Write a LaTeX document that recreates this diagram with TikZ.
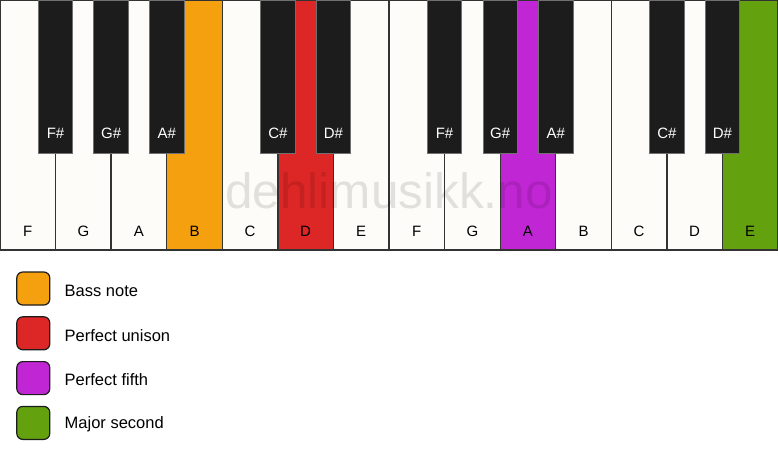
\documentclass[tikz,border=0pt]{standalone}
\usepackage{fontspec}
\setmainfont{Liberation Sans}
\definecolor{keyline}{HTML}{333333}
\definecolor{ivorykey}{HTML}{FDFCF9}
\definecolor{blackfill}{HTML}{1C1C1C}
\definecolor{bassc}{HTML}{F4A00F}
\definecolor{unisonc}{HTML}{DD2626}
\definecolor{fifthc}{HTML}{C126D4}
\definecolor{secondc}{HTML}{63A10E}
\tikzset{
  whitekey/.style={draw=keyline, line width=1.3pt, minimum width=55.5714pt, minimum height=250pt, inner sep=0pt, outer sep=0pt, anchor=north west},
  blackkey/.style={draw=keyline!70, line width=0.8pt, fill=blackfill, minimum width=34.5pt, minimum height=153pt, inner sep=0pt, outer sep=0pt, anchor=north},
  wlabel/.style={font=\fontsize{15}{17}\selectfont, anchor=base, inner sep=0pt},
  blabel/.style={font=\fontsize{15}{17}\selectfont, text=white, anchor=base, inner sep=0pt},
  legbox/.style={draw=blackfill, line width=1.2pt, rounded corners=6pt, minimum width=33pt, minimum height=33pt, inner sep=0pt},
  legtext/.style={font=\fontsize{16.5}{18}\selectfont, anchor=west, inner sep=0pt},
  watermark/.style={font=\fontsize{49.5}{54}\selectfont, text=black, text opacity=0.11, anchor=base, inner sep=0pt}
}
\begin{document}
\begin{tikzpicture}[x=1pt,y=-1pt]
\useasboundingbox (0,0) rectangle (778,461);
\fill[white] (0,0) rectangle (778,461);
\foreach \i/\n/\c in {0/F/ivorykey,1/G/ivorykey,2/A/ivorykey,3/B/bassc,4/C/ivorykey,5/D/unisonc,6/E/ivorykey,7/F/ivorykey,8/G/ivorykey,9/A/fifthc,10/B/ivorykey,11/C/ivorykey,12/D/ivorykey,13/E/secondc}{
  \node[whitekey, fill=\c] (w\i) at (\i*55.5714,0) {};
  \node[wlabel] (lw\i) at ([yshift=14pt]w\i.south) {\n};
}
\node[watermark] (wm) at (389,208) {dehlimusikk.no};
\foreach \k/\n in {1/F\#,2/G\#,3/A\#,5/C\#,6/D\#,8/F\#,9/G\#,10/A\#,12/C\#,13/D\#}{
  \node[blackkey] (b\k) at (\k*55.5714,0) {};
  \node[blabel] (lb\k) at ([yshift=15pt]b\k.south) {\n};
}
\foreach \j/\c/\t in {0/bassc/Bass note,1/unisonc/Perfect unison,2/fifthc/Perfect fifth,3/secondc/Major second}{
  \node[legbox, fill=\c] (sq\j) at (33.3,288.5+\j*44.8) {};
  \node[legtext] (lt\j) at (64.5,290.5+\j*44.6) {\t};
}
\end{tikzpicture}
\end{document}
